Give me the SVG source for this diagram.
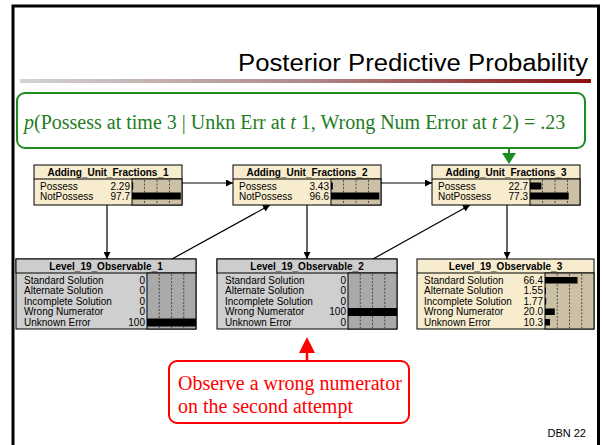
<svg xmlns="http://www.w3.org/2000/svg" width="602" height="445" viewBox="0 0 602 445">
  <defs>
    <linearGradient id="rule" x1="0" y1="0" x2="1" y2="0">
      <stop offset="0" stop-color="#d4d4d4"/>
      <stop offset="0.5" stop-color="#b08a8a"/>
      <stop offset="1" stop-color="#8b1010"/>
    </linearGradient>
    <marker id="arr" viewBox="0 0 10 10" refX="10" refY="5" markerWidth="7" markerHeight="7" markerUnits="userSpaceOnUse" orient="auto">
      <path d="M0,0 L10,5 L0,10 z" fill="#000"/>
    </marker>
    <style>
      .frame { fill: none; stroke: #000; stroke-width: 3; }
      .title { font-family: "Liberation Sans", Arial, sans-serif; font-size: 23px; fill: #000; }
      .hdr { font-family: "Liberation Sans", Arial, sans-serif; font-size: 10px; font-weight: bold; fill: #000; }
      .lbl { font-family: "Liberation Sans", Arial, sans-serif; font-size: 10px; fill: #000; }
      .val { font-family: "Liberation Sans", Arial, sans-serif; font-size: 10px; fill: #000; text-anchor: end; }
      .box { stroke: #000; stroke-width: 1; }
      .cream { fill: #f7ecce; }
      .creambar { fill: #cbbfa6; }
      .grey { fill: #cfcfcf; }
      .greyhdr { fill: #cdcdcd; }
      .greybar { fill: #a9a9a9; }
      .tick { stroke: #333; stroke-width: 0.8; stroke-dasharray: 2 1.5; }
      .bar { fill: #000; }
      .edge { stroke: #000; stroke-width: 1.2; fill: none; marker-end: url(#arr); }
      .note-g { font-family: "Liberation Serif", "Times New Roman", serif; font-size: 20px; fill: #1e7d1e; }
      .note-r { font-family: "Liberation Serif", "Times New Roman", serif; font-size: 20px; fill: #ff0000; }
      .foot { font-family: "Liberation Sans", Arial, sans-serif; font-size: 11px; fill: #000; }
    </style>
  </defs>

  <rect width="602" height="445" fill="#fff"/>
  <!-- slide frame (open at the bottom) -->
  <path class="frame" d="M13,450 V6 H598.5 V450"/>

  <!-- title and rule -->
  <text class="title" x="588" y="71" text-anchor="end" textLength="350" lengthAdjust="spacingAndGlyphs">Posterior Predictive Probability</text>
  <rect x="20" y="79" width="571" height="4" fill="url(#rule)"/>

  <!-- connectors -->
  <g id="connectors">
    <line class="edge" x1="182" y1="183" x2="233" y2="183"/>
    <line class="edge" x1="381" y1="183" x2="432" y2="183"/>
    <line class="edge" x1="107" y1="205" x2="107" y2="259"/>
    <line class="edge" x1="307" y1="205" x2="307" y2="259"/>
    <line class="edge" x1="507" y1="205" x2="507" y2="259"/>
    <line class="edge" x1="172" y1="259" x2="270" y2="205"/>
    <line class="edge" x1="373" y1="259" x2="470" y2="205"/>
  </g>

  <!-- Adding_Unit_Fractions_1 -->
  <g id="auf1">
    <rect class="box cream" x="34" y="165" width="148" height="40"/>
    <line class="box" x1="34" y1="179" x2="182" y2="179"/>
    <text class="hdr" x="108" y="175.5" text-anchor="middle">Adding_Unit_Fractions_1</text>
    <rect class="box creambar" x="132" y="179" width="50" height="26"/>
    <line class="tick" x1="144.5" y1="180" x2="144.5" y2="204"/>
    <line class="tick" x1="157" y1="180" x2="157" y2="204"/>
    <line class="tick" x1="169.5" y1="180" x2="169.5" y2="204"/>
    <rect class="bar" x="132" y="182.5" width="1.2" height="7"/>
    <rect class="bar" x="132" y="192.5" width="48.8" height="7"/>
    <text class="lbl" x="40" y="189.5">Possess</text>
    <text class="lbl" x="40" y="199.5">NotPossess</text>
    <text class="val" x="130" y="189.5">2.29</text>
    <text class="val" x="130" y="199.5">97.7</text>
  </g>

  <!-- Adding_Unit_Fractions_2 -->
  <g id="auf2">
    <rect class="box cream" x="233" y="165" width="148" height="40"/>
    <line class="box" x1="233" y1="179" x2="381" y2="179"/>
    <text class="hdr" x="307" y="175.5" text-anchor="middle">Adding_Unit_Fractions_2</text>
    <rect class="box creambar" x="331" y="179" width="50" height="26"/>
    <line class="tick" x1="343.5" y1="180" x2="343.5" y2="204"/>
    <line class="tick" x1="356" y1="180" x2="356" y2="204"/>
    <line class="tick" x1="368.5" y1="180" x2="368.5" y2="204"/>
    <rect class="bar" x="331" y="182.5" width="1.8" height="7"/>
    <rect class="bar" x="331" y="192.5" width="48.3" height="7"/>
    <text class="lbl" x="239" y="189.5">Possess</text>
    <text class="lbl" x="239" y="199.5">NotPossess</text>
    <text class="val" x="329" y="189.5">3.43</text>
    <text class="val" x="329" y="199.5">96.6</text>
  </g>

  <!-- Adding_Unit_Fractions_3 -->
  <g id="auf3">
    <rect class="box cream" x="432" y="165" width="148" height="40"/>
    <line class="box" x1="432" y1="179" x2="580" y2="179"/>
    <text class="hdr" x="506" y="175.5" text-anchor="middle">Adding_Unit_Fractions_3</text>
    <rect class="box creambar" x="530" y="179" width="50" height="26"/>
    <line class="tick" x1="542.5" y1="180" x2="542.5" y2="204"/>
    <line class="tick" x1="555" y1="180" x2="555" y2="204"/>
    <line class="tick" x1="567.5" y1="180" x2="567.5" y2="204"/>
    <rect class="bar" x="530" y="182.5" width="11.4" height="7"/>
    <rect class="bar" x="530" y="192.5" width="38.7" height="7"/>
    <text class="lbl" x="438" y="189.5">Possess</text>
    <text class="lbl" x="438" y="199.5">NotPossess</text>
    <text class="val" x="528" y="189.5">22.7</text>
    <text class="val" x="528" y="199.5">77.3</text>
  </g>

  <!-- Level_19_Observable_1 -->
  <g id="obs1">
    <rect class="box grey" x="16" y="259" width="180" height="70"/>
    <rect class="box greyhdr" x="16" y="259" width="180" height="14"/>
    <text class="hdr" x="106" y="269.5" text-anchor="middle">Level_19_Observable_1</text>
    <rect class="box greybar" x="147" y="273" width="49" height="56"/>
    <line class="tick" x1="159.25" y1="274" x2="159.25" y2="328"/>
    <line class="tick" x1="171.5" y1="274" x2="171.5" y2="328"/>
    <line class="tick" x1="183.75" y1="274" x2="183.75" y2="328"/>
    <rect class="bar" x="147" y="318.5" width="49" height="8"/>
    <text class="lbl" x="24" y="283.5">Standard Solution</text>
    <text class="lbl" x="24" y="294">Alternate Solution</text>
    <text class="lbl" x="24" y="304.5">Incomplete Solution</text>
    <text class="lbl" x="24" y="315">Wrong Numerator</text>
    <text class="lbl" x="24" y="325.5">Unknown Error</text>
    <text class="val" x="145" y="283.5">0</text>
    <text class="val" x="145" y="294">0</text>
    <text class="val" x="145" y="304.5">0</text>
    <text class="val" x="145" y="315">0</text>
    <text class="val" x="145" y="325.5">100</text>
  </g>

  <!-- Level_19_Observable_2 -->
  <g id="obs2">
    <rect class="box grey" x="217" y="259" width="180" height="70"/>
    <rect class="box greyhdr" x="217" y="259" width="180" height="14"/>
    <text class="hdr" x="307" y="269.5" text-anchor="middle">Level_19_Observable_2</text>
    <rect class="box greybar" x="348" y="273" width="49" height="56"/>
    <line class="tick" x1="360.25" y1="274" x2="360.25" y2="328"/>
    <line class="tick" x1="372.5" y1="274" x2="372.5" y2="328"/>
    <line class="tick" x1="384.75" y1="274" x2="384.75" y2="328"/>
    <rect class="bar" x="348" y="308" width="49" height="8"/>
    <text class="lbl" x="225" y="283.5">Standard Solution</text>
    <text class="lbl" x="225" y="294">Alternate Solution</text>
    <text class="lbl" x="225" y="304.5">Incomplete Solution</text>
    <text class="lbl" x="225" y="315">Wrong Numerator</text>
    <text class="lbl" x="225" y="325.5">Unknown Error</text>
    <text class="val" x="346" y="283.5">0</text>
    <text class="val" x="346" y="294">0</text>
    <text class="val" x="346" y="304.5">0</text>
    <text class="val" x="346" y="315">100</text>
    <text class="val" x="346" y="325.5">0</text>
  </g>

  <!-- Level_19_Observable_3 -->
  <g id="obs3">
    <rect class="box cream" x="417" y="259" width="177" height="70"/>
    <line class="box" x1="417" y1="273" x2="594" y2="273"/>
    <text class="hdr" x="505.5" y="269.5" text-anchor="middle">Level_19_Observable_3</text>
    <rect class="box creambar" x="545" y="273" width="49" height="56"/>
    <line class="tick" x1="557.25" y1="274" x2="557.25" y2="328"/>
    <line class="tick" x1="569.5" y1="274" x2="569.5" y2="328"/>
    <line class="tick" x1="581.75" y1="274" x2="581.75" y2="328"/>
    <rect class="bar" x="545" y="277" width="32.5" height="6.5"/>
    <rect class="bar" x="545" y="287.5" width="1" height="6.5"/>
    <rect class="bar" x="545" y="298" width="1.2" height="6.5"/>
    <rect class="bar" x="545" y="308.5" width="9.8" height="6.5"/>
    <rect class="bar" x="545" y="319" width="5" height="6.5"/>
    <text class="lbl" x="424" y="283.5">Standard Solution</text>
    <text class="lbl" x="424" y="294">Alternate Solution</text>
    <text class="lbl" x="424" y="304.5">Incomplete Solution</text>
    <text class="lbl" x="424" y="315">Wrong Numerator</text>
    <text class="lbl" x="424" y="325.5">Unknown Error</text>
    <text class="val" x="543" y="283.5">66.4</text>
    <text class="val" x="543" y="294">1.55</text>
    <text class="val" x="543" y="304.5">1.77</text>
    <text class="val" x="543" y="315">20.0</text>
    <text class="val" x="543" y="325.5">10.3</text>
  </g>

  <!-- green callout with its pointer -->
  <g id="query">
    <rect x="17" y="93" width="568" height="55" rx="8" ry="8" fill="#fff" stroke="#1e8c1e" stroke-width="2"/>
    <text class="note-g" x="24" y="129"><tspan font-style="italic">p</tspan>(Possess at time 3 | Unkn Err at <tspan font-style="italic">t</tspan> 1, Wrong Num Error at <tspan font-style="italic">t</tspan> 2) = .23</text>
    <line x1="509" y1="148" x2="509" y2="154" stroke="#1e8c1e" stroke-width="2"/>
    <path d="M502,153 L516,153 L509,164 z" fill="#1e8c1e"/>
  </g>

  <!-- red callout with its pointer -->
  <g id="evidence">
    <line x1="307" y1="361" x2="307" y2="350" stroke="#ff0000" stroke-width="2.5"/>
    <path d="M299,353 L315,353 L307,337 z" fill="#ff0000"/>
    <rect x="169" y="361" width="240" height="62" rx="8" ry="8" fill="#fff" stroke="#ff0000" stroke-width="2"/>
    <text class="note-r" x="178" y="390">Observe a wrong numerator</text>
    <text class="note-r" x="178" y="413">on the second attempt</text>
  </g>

  <text class="foot" x="586" y="437" text-anchor="end">DBN 22</text>
</svg>
